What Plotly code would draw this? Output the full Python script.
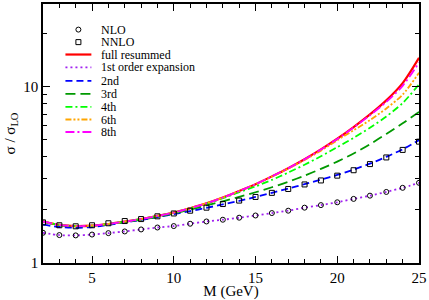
import plotly.graph_objects as go

# ---- data ----
M = list(range(2, 26))

nlo = [1.484, 1.44, 1.434, 1.45, 1.477, 1.51, 1.55, 1.59, 1.62, 1.67, 1.72, 1.76,
       1.807, 1.86, 1.92, 1.98, 2.06, 2.13, 2.21, 2.31, 2.41, 2.53, 2.67, 2.85]
nnlo = [1.70, 1.637, 1.615, 1.637, 1.68, 1.73, 1.775, 1.84, 1.91, 1.98, 2.06, 2.16,
        2.26, 2.37, 2.50, 2.63, 2.79, 2.94, 3.13, 3.36, 3.64, 3.97, 4.38, 4.88]

full_resummed = [1.72, 1.645, 1.62, 1.63, 1.665, 1.715, 1.775, 1.85, 1.93, 2.046, 2.18, 2.35,
                 2.56, 2.80, 3.10, 3.45, 3.88, 4.41, 5.07, 5.90, 6.96, 8.37, 10.49, 14.6]
first_order = [1.484, 1.44, 1.434, 1.45, 1.477, 1.51, 1.55, 1.59, 1.62, 1.67, 1.72, 1.76,
               1.807, 1.86, 1.92, 1.98, 2.06, 2.13, 2.21, 2.31, 2.41, 2.53, 2.67, 2.85]
second = [1.65, 1.60, 1.585, 1.60, 1.645, 1.70, 1.755, 1.82, 1.895, 1.97, 2.055, 2.15,
          2.25, 2.37, 2.50, 2.64, 2.80, 2.97, 3.16, 3.39, 3.66, 4.00, 4.42, 4.98]
third = [1.71, 1.64, 1.615, 1.625, 1.66, 1.705, 1.76, 1.83, 1.91, 2.01, 2.12, 2.24,
         2.37, 2.52, 2.69, 2.89, 3.13, 3.42, 3.76, 4.18, 4.72, 5.40, 6.20, 7.20]
fourth = [1.72, 1.645, 1.62, 1.63, 1.665, 1.715, 1.775, 1.85, 1.93, 2.04, 2.17, 2.33,
          2.52, 2.72, 2.96, 3.26, 3.61, 4.03, 4.54, 5.13, 5.85, 6.78, 8.08, 10.3]
sixth = [1.72, 1.645, 1.62, 1.63, 1.665, 1.715, 1.775, 1.85, 1.93, 2.046, 2.18, 2.35,
         2.56, 2.80, 3.09, 3.43, 3.84, 4.34, 4.97, 5.66, 6.47, 7.53, 9.02, 12.0]
eighth = [1.72, 1.645, 1.62, 1.63, 1.665, 1.715, 1.775, 1.85, 1.93, 2.046, 2.18, 2.35,
          2.56, 2.80, 3.10, 3.45, 3.87, 4.40, 5.05, 5.87, 6.89, 8.20, 10.12, 13.7]

x_tick_vals = [5, 10, 15, 20, 25]
x_tick_text = ["5", "10", "15", "20", "25"]
y_tick_vals = [1, 10]
y_tick_text = ["1", "10"]

legend_labels = ["NLO", "NNLO", "full resummed", "1st order expansion",
                 "2nd", "3rd", "4th", "6th", "8th"]

# ---- styles ----
FONT = "Liberation Serif"
W, H = 429, 300
ML, MR, MT, MB = 43, 9, 2, 35
PW, PH = W - ML - MR, H - MT - MB

line_styles = [
    ("full resummed", full_resummed, "#ff0000", "solid", 2.2),
    ("1st order expansion", first_order, "#a020f0", "2px,3px", 1.8),
    ("2nd", second, "#0000ff", "7px,4px", 1.8),
    ("3rd", third, "#009900", "10px,5px", 1.8),
    ("4th", fourth, "#00ff00", "7px,3px,2px,3px", 1.8),
    ("6th", sixth, "#ffa500", "6px,2px,2px,2px,2px,2px", 1.8),
    ("8th", eighth, "#ff00ff", "9px,3px,2px,3px", 1.8),
]

fig = go.Figure()

for name, ys, color, dash, w in line_styles:
    fig.add_trace(go.Scatter(x=M, y=ys, mode="lines", name=name,
                             line=dict(color=color, dash=dash, width=w, shape="spline", smoothing=0.8),
                             showlegend=False))

fig.add_trace(go.Scatter(x=M, y=nlo, mode="markers", name="NLO", showlegend=False,
                         marker=dict(symbol="circle-open", size=5, color="black", line=dict(width=1))))
fig.add_trace(go.Scatter(x=M, y=nnlo, mode="markers", name="NNLO", showlegend=False,
                         marker=dict(symbol="square-open", size=5, color="black", line=dict(width=1))))

# ---- manual legend (compact, as in the reference) ----
def px(xp):
    return (xp - ML) / PW

def py(yp):
    return (H - MB - yp) / PH

rows_y = [28, 40.7, 53.3, 66.3, 80, 93.3, 106.5, 119.3, 132]
key_x0, key_x1, text_x = 65.5, 91.5, 99
shapes = []
annotations = []
style_by_name = {s[0]: s for s in line_styles}
for label, yrow in zip(legend_labels, rows_y):
    if label == "NLO":
        shapes.append(dict(type="circle", xref="paper", yref="paper", xsizemode="pixel", ysizemode="pixel",
                           xanchor=px(78.5), yanchor=py(yrow), x0=-2.5, x1=2.5, y0=-2.5, y1=2.5,
                           line=dict(color="black", width=1)))
    elif label == "NNLO":
        shapes.append(dict(type="rect", xref="paper", yref="paper", xsizemode="pixel", ysizemode="pixel",
                           xanchor=px(78.5), yanchor=py(yrow), x0=-2.5, x1=2.5, y0=-2.5, y1=2.5,
                           line=dict(color="black", width=1)))
    else:
        _, _, color, dash, w = style_by_name[label]
        shapes.append(dict(type="line", xref="paper", yref="paper",
                           x0=px(key_x0), x1=px(key_x1), y0=py(yrow), y1=py(yrow),
                           line=dict(color=color, dash=dash, width=w)))
    annotations.append(dict(text=label, xref="paper", yref="paper", x=px(text_x), y=py(yrow),
                            xanchor="left", yanchor="middle", showarrow=False,
                            font=dict(family=FONT, size=12, color="black")))

fig.update_layout(
    width=W, height=H,
    margin=dict(l=ML, r=MR, t=MT, b=MB),
    paper_bgcolor="white", plot_bgcolor="white",
    font=dict(family=FONT, size=15, color="black"),
    shapes=shapes, annotations=annotations,
    showlegend=False,
)

fig.update_xaxes(
    range=[2, 25], tickvals=x_tick_vals, ticktext=x_tick_text,
    ticks="inside", ticklen=7, tickwidth=1, tickcolor="black",
    showline=True, linecolor="black", linewidth=1.5, mirror="ticks",
    showgrid=False, zeroline=False,
    minor=dict(tickvals=[v for v in range(3, 25) if v % 5 != 0], ticks="inside",
               ticklen=4, tickwidth=1, tickcolor="black", showgrid=False),
    title=dict(text="M (GeV)", font=dict(family=FONT, size=15), standoff=2),
    tickfont=dict(family=FONT, size=15),
)
fig.update_yaxes(
    type="log", range=[0, PH / 179.0], tickvals=y_tick_vals, ticktext=y_tick_text,
    ticks="inside", ticklen=7, tickwidth=1, tickcolor="black",
    showline=True, linecolor="black", linewidth=1.5, mirror="ticks",
    showgrid=False, zeroline=False,
    minor=dict(tickvals=[2, 3, 4, 5, 6, 7, 8, 9, 20], ticks="inside",
               ticklen=4, tickwidth=1, tickcolor="black", showgrid=False),
    title=dict(text="σ / σ<sub>LO</sub>", font=dict(family=FONT, size=15), standoff=4),
    tickfont=dict(family=FONT, size=15),
)

fig.write_html("out.html", config={"displayModeBar": False},
               post_script="document.body.style.margin='0';document.body.style.overflow='hidden';")
